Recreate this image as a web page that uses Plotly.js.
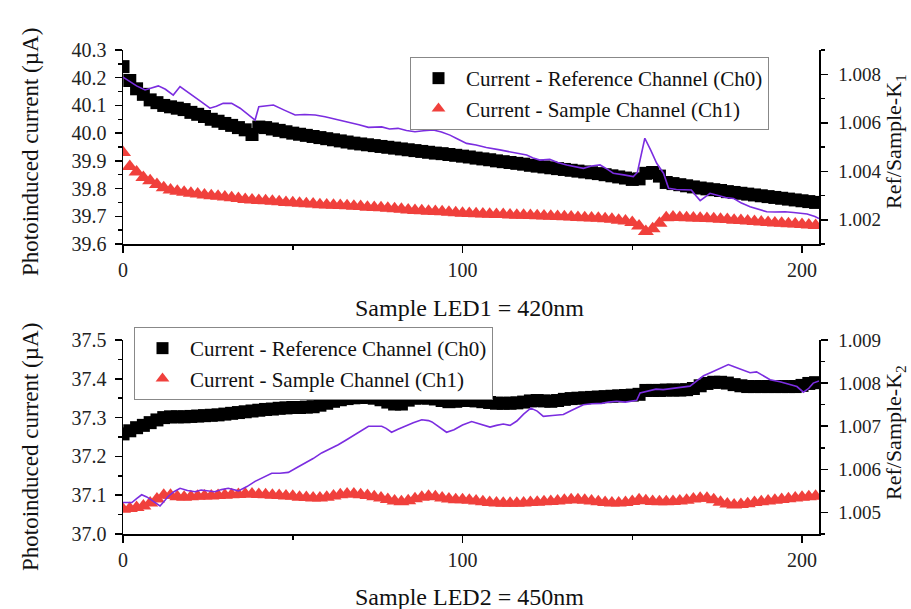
<!DOCTYPE html>
<html>
<head>
<meta charset="utf-8">
<script src="https://cdn.plot.ly/plotly-3.0.1.min.js"></script>
<style>html,body{margin:0;padding:0;background:#fff;}#chart{width:911px;height:609px;}</style>
</head>
<body>
<div id="chart"></div>
<script>
// Sample index (x) for the dense marker series
const SAMPLE_X = [0,2,4,6,8,10,12,14,16,18,20,22,24,26,28,30,32,34,36,38,40,42,44,46,48,50,52,54,56,58,60,62,64,66,68,70,72,74,76,78,80,82,84,86,88,90,92,94,96,98,100,102,104,106,108,110,112,114,116,118,120,122,124,126,128,130,132,134,136,138,140,142,144,146,148,150,152,154,156,158,160,162,164,166,168,170,172,174,176,178,180,182,184,186,188,190,192,194,196,198,200,202,204];

// Top panel: LED1 = 420nm
const TOP_REF = [40.24,40.19,40.16,40.14,40.12,40.11,40.10,40.095,40.09,40.085,
40.075,40.068,40.06,40.05,40.043,40.035,40.028,40.02,40.012,39.995,
40.022,40.02,40.015,40.01,40.005,40.0,39.996,39.992,39.988,39.984,
39.98,39.976,39.972,39.968,39.964,39.961,39.958,39.955,39.952,39.949,
39.946,39.943,39.94,39.937,39.934,39.931,39.928,39.926,39.923,39.92,
39.917,39.914,39.91,39.907,39.904,39.90,39.897,39.894,39.891,39.888,
39.884,39.881,39.878,39.875,39.872,39.869,39.866,39.863,39.86,39.857,
39.854,39.85,39.846,39.842,39.838,39.833,39.835,39.855,39.858,39.845,
39.822,39.818,39.814,39.81,39.806,39.802,39.799,39.796,39.793,39.789,
39.786,39.783,39.78,39.777,39.774,39.771,39.768,39.765,39.762,39.759,
39.756,39.753,39.75];
const TOP_SAM = [39.93,39.88,39.86,39.84,39.828,39.815,39.803,39.795,39.79,39.787,
39.783,39.78,39.777,39.774,39.772,39.77,39.767,39.764,39.761,39.759,
39.757,39.756,39.754,39.752,39.75,39.749,39.747,39.745,39.744,39.742,
39.741,39.74,39.739,39.738,39.736,39.735,39.733,39.732,39.731,39.729,
39.727,39.725,39.723,39.721,39.72,39.718,39.717,39.716,39.715,39.713,
39.711,39.71,39.709,39.708,39.707,39.706,39.706,39.705,39.704,39.704,
39.703,39.702,39.701,39.70,39.699,39.698,39.697,39.696,39.695,39.694,
39.693,39.691,39.689,39.686,39.683,39.678,39.665,39.645,39.655,39.675,
39.695,39.697,39.696,39.695,39.694,39.693,39.692,39.691,39.689,39.688,
39.686,39.685,39.683,39.681,39.679,39.678,39.676,39.675,39.673,39.672,
39.67,39.669,39.667];
const TOP_K_X = [0,2,4,6.5,8.5,10.4,12.5,14.8,16.8,19,21.2,23.5,25.6,27.5,29.5,32,34.5,36.7,38.9,40,42,44.3,47.5,50.7,53.5,56.6,59.5,63,66.4,69.5,72.3,76.2,78.5,81,83.5,86,88.5,91.4,93.8,96.3,98.7,101.2,104,107,111,114,116.5,118.9,120.8,122.8,125.7,128,130.7,133,135.6,138,140.5,142.5,144.4,147.5,150.3,151.5,153.7,155.5,157.2,159.2,160.7,163,165,167.4,168.7,170,172.9,175.5,177.5,179.8,182,184.7,187,189.6,192,195,197.5,199.4,201.5,203.8,205];
const TOP_K = [1.00788,1.0077,1.00752,1.00735,1.00745,1.00752,1.00738,1.00714,1.00749,1.00728,1.00707,1.00682,1.0066,1.00668,1.0068,1.0068,1.0066,1.00636,1.00611,1.00666,1.00668,1.00673,1.00652,1.00632,1.00634,1.00632,1.00625,1.00614,1.00604,1.00592,1.00581,1.00583,1.00574,1.00577,1.00568,1.00563,1.00567,1.0057,1.00562,1.00549,1.00532,1.00515,1.00508,1.00498,1.00488,1.0048,1.00474,1.00467,1.00455,1.00446,1.00449,1.00436,1.00426,1.00418,1.00412,1.00422,1.00426,1.0041,1.00392,1.00385,1.00378,1.00395,1.00536,1.00485,1.00433,1.00392,1.0033,1.00325,1.00323,1.00323,1.003,1.00279,1.00309,1.00298,1.00292,1.00288,1.0027,1.00254,1.00243,1.00233,1.00232,1.00233,1.0023,1.00227,1.00224,1.00213,1.00205];

// Bottom panel: LED2 = 450nm
const BOT_REF = [37.258,37.266,37.274,37.28,37.287,37.294,37.3,37.302,37.302,37.302,
37.303,37.304,37.305,37.306,37.307,37.309,37.311,37.313,37.315,37.317,
37.319,37.321,37.322,37.324,37.325,37.326,37.326,37.327,37.328,37.332,
37.337,37.342,37.346,37.349,37.351,37.352,37.352,37.35,37.346,37.34,
37.335,37.335,37.345,37.35,37.351,37.35,37.348,37.344,37.341,37.342,
37.344,37.344,37.343,37.341,37.339,37.337,37.337,37.337,37.338,37.34,
37.343,37.344,37.343,37.342,37.344,37.347,37.349,37.35,37.351,37.352,
37.353,37.354,37.355,37.356,37.357,37.358,37.36,37.37,37.37,37.37,
37.371,37.371,37.371,37.372,37.375,37.382,37.388,37.391,37.391,37.389,
37.385,37.382,37.38,37.38,37.38,37.38,37.38,37.38,37.38,37.38,
37.383,37.388,37.39];
const BOT_SAM = [37.064,37.066,37.068,37.072,37.08,37.09,37.1,37.1,37.096,37.095,
37.096,37.097,37.098,37.098,37.099,37.1,37.101,37.102,37.103,37.103,
37.102,37.101,37.1,37.099,37.098,37.097,37.095,37.094,37.093,37.093,
37.095,37.098,37.101,37.103,37.103,37.101,37.099,37.096,37.093,37.089,
37.085,37.083,37.086,37.091,37.095,37.097,37.096,37.093,37.09,37.088,
37.088,37.087,37.085,37.083,37.081,37.08,37.079,37.079,37.079,37.08,
37.081,37.082,37.083,37.084,37.085,37.087,37.088,37.088,37.087,37.085,
37.083,37.081,37.08,37.08,37.081,37.084,37.088,37.086,37.084,37.083,
37.083,37.084,37.085,37.087,37.09,37.092,37.092,37.088,37.082,37.077,
37.075,37.076,37.078,37.081,37.083,37.085,37.087,37.089,37.091,37.093,
37.095,37.096,37.097];
const BOT_K_X = [0,2.6,4,5.5,7,8.4,10.9,12,13.3,15,16.8,19,21.2,23,25.1,27,29,31,34,36.5,38.9,41.3,43.8,46.2,48.7,51,53.6,56,58.5,61,63.4,65.5,67.4,70,72.3,74,76.2,77.5,79.1,81,83,85.5,88,90,91,93,95.3,97.5,100,102.7,105,108.1,110,112,114,116,118,120.1,122,123.8,126.5,129.7,132.5,135.6,138,141,143,145.4,148,151.3,152.3,155,157,159.1,162,165,167,169,171,173.5,176,178.3,180,182.5,184.7,186.6,188.5,190.6,193.5,196.5,198.5,200.4,202,203.3,205];
const BOT_K = [1.00523,1.00523,1.00532,1.00541,1.00536,1.00529,1.00515,1.00525,1.00537,1.00548,1.00556,1.00551,1.00548,1.00552,1.0055,1.00548,1.00553,1.00556,1.0055,1.0056,1.00572,1.00582,1.00591,1.00591,1.00593,1.00603,1.00614,1.00625,1.00638,1.00647,1.00657,1.00667,1.00676,1.00688,1.007,1.007,1.007,1.00695,1.00686,1.00693,1.007,1.00708,1.00715,1.00713,1.0071,1.00698,1.00686,1.00692,1.00703,1.00711,1.00706,1.00698,1.00702,1.00705,1.00702,1.00712,1.00728,1.00742,1.00735,1.00723,1.00725,1.00727,1.00738,1.0075,1.00752,1.00753,1.00756,1.00758,1.00756,1.0076,1.00777,1.00782,1.00786,1.00785,1.00788,1.0079,1.00793,1.00805,1.00817,1.00826,1.00835,1.00843,1.00838,1.0083,1.00824,1.00826,1.00818,1.00808,1.00803,1.00797,1.00792,1.00779,1.00788,1.008,1.00805];

const NAME_REF = 'Current - Reference Channel (Ch0)';
const NAME_SAM = 'Current - Sample Channel (Ch1)';
const TITLE_TOP = 'Sample LED1 = 420nm';
const TITLE_BOT = 'Sample LED2 = 450nm';
const YTITLE = 'Photoinduced current (µA)';

const FONT = 'Liberation Serif, Times New Roman, serif';
const RED = '#f0403c';
const PURPLE = '#7b2de0';

const traces = [
  {x: SAMPLE_X, y: TOP_REF, xaxis:'x', yaxis:'y', mode:'markers', name: NAME_REF, legend:'legend',
   marker:{symbol:'square', size:13, color:'#000'}},
  {x: SAMPLE_X, y: TOP_SAM, xaxis:'x', yaxis:'y', mode:'markers', name: NAME_SAM, legend:'legend',
   marker:{symbol:'triangle-up', size:14, color:RED}},
  {x: TOP_K_X, y: TOP_K, xaxis:'x', yaxis:'y2', mode:'lines', showlegend:false,
   line:{color:PURPLE, width:1.6}},
  {x: SAMPLE_X, y: BOT_REF, xaxis:'x2', yaxis:'y3', mode:'markers', name: NAME_REF, legend:'legend2',
   marker:{symbol:'square', size:13, color:'#000'}},
  {x: SAMPLE_X, y: BOT_SAM, xaxis:'x2', yaxis:'y3', mode:'markers', name: NAME_SAM, legend:'legend2',
   marker:{symbol:'triangle-up', size:14, color:RED}},
  {x: BOT_K_X, y: BOT_K, xaxis:'x2', yaxis:'y4', mode:'lines', showlegend:false,
   line:{color:PURPLE, width:1.6}}
];

const W = 911, H = 609;
const xd = [123/W, 819/W];
const topD = [1-244/H, 1-50/H];
const botD = [1-534/H, 1-340/H];
const tickFont = {family: FONT, size: 20, color:'#222'};
const rTickFont = {family: FONT, size: 19, color:'#222'};

function xAxis(anchor, domain) {
  return {domain: domain, anchor: anchor, range:[0,205], dtick:100, tick0:0,
    showline:true, linecolor:'#000', linewidth:1.5, ticks:'outside', ticklen:7, tickwidth:1.5, tickcolor:'#000',
    minor:{dtick:50, ticks:'outside', ticklen:4, tickwidth:1.5, tickcolor:'#000'},
    showgrid:false, zeroline:false, tickfont: tickFont, fixedrange:true};
}
function yAxis(anchor, domain, range, dtick, mdtick, fmt, extra) {
  return Object.assign({domain: domain, anchor: anchor, range: range, dtick: dtick, tick0: 0,
    showline:true, linecolor:'#000', linewidth:1.5, ticks:'outside', ticklen:7, tickwidth:1.5, tickcolor:'#000',
    minor:{dtick: mdtick, tick0: 0, ticks:'outside', ticklen:4, tickwidth:1.5, tickcolor:'#000'},
    ticklabelstandoff: 4,
    showgrid:false, zeroline:false, tickformat: fmt, tickfont: tickFont, fixedrange:true}, extra||{});
}
const rightExtra = (ov) => ({overlaying: ov, side:'right', tickfont: rTickFont, ticklabelstandoff: 7});

const legendCommon = {font:{family: FONT, size:21, color:'#111'}, bgcolor:'rgba(255,255,255,1)',
  bordercolor:'#888', borderwidth:1, xanchor:'left', yanchor:'top', itemsizing:'constant',
  tracegroupgap:0, itemwidth:45};

const layout = {
  width: W, height: H, margin:{l:0, r:0, t:0, b:0},
  paper_bgcolor:'#fff', plot_bgcolor:'rgba(0,0,0,0)',
  showlegend: true,
  xaxis: xAxis('y', xd),
  yaxis: yAxis('x', topD, [39.6, 40.3], 0.1, 0.05, '.1f'),
  yaxis2: yAxis('x', topD, [1.001, 1.009], 0.002, 0.001, '.3f', rightExtra('y')),
  xaxis2: xAxis('y3', xd),
  yaxis3: yAxis('x2', botD, [37.0, 37.5], 0.1, 0.05, '.1f'),
  yaxis4: yAxis('x2', botD, [1.0045, 1.009], 0.001, 0.0005, '.3f', rightExtra('y3')),
  legend: Object.assign({x: 410/W, y: 1-57/H}, legendCommon),
  legend2: Object.assign({x: 134/W, y: 1-327/H}, legendCommon),
  annotations: [
    {text: TITLE_TOP, xref:'paper', yref:'paper', x: 470/W, y: 1-308/H, showarrow:false,
     xanchor:'center', yanchor:'middle', font:{family:FONT, size:24, color:'#111'}},
    {text: TITLE_BOT, xref:'paper', yref:'paper', x: 470/W, y: 1-597/H, showarrow:false,
     xanchor:'center', yanchor:'middle', font:{family:FONT, size:24, color:'#111'}},
    {text: YTITLE, xref:'paper', yref:'paper', x: 30/W, y: 1-152/H, showarrow:false, textangle:-90,
     xanchor:'center', yanchor:'middle', font:{family:FONT, size:23, color:'#111'}},
    {text: YTITLE, xref:'paper', yref:'paper', x: 30/W, y: 1-447/H, showarrow:false, textangle:-90,
     xanchor:'center', yanchor:'middle', font:{family:FONT, size:23, color:'#111'}},
    {text: 'Ref/Sample-K<sub>1</sub>', xref:'paper', yref:'paper', x: 895/W, y: 1-142/H, showarrow:false, textangle:-90,
     xanchor:'center', yanchor:'middle', font:{family:FONT, size:22, color:'#111'}},
    {text: 'Ref/Sample-K<sub>2</sub>', xref:'paper', yref:'paper', x: 895/W, y: 1-433/H, showarrow:false, textangle:-90,
     xanchor:'center', yanchor:'middle', font:{family:FONT, size:22, color:'#111'}}
  ]
};

Plotly.newPlot('chart', traces, layout, {staticPlot:true, displayModeBar:false});
</script>
</body>
</html>
